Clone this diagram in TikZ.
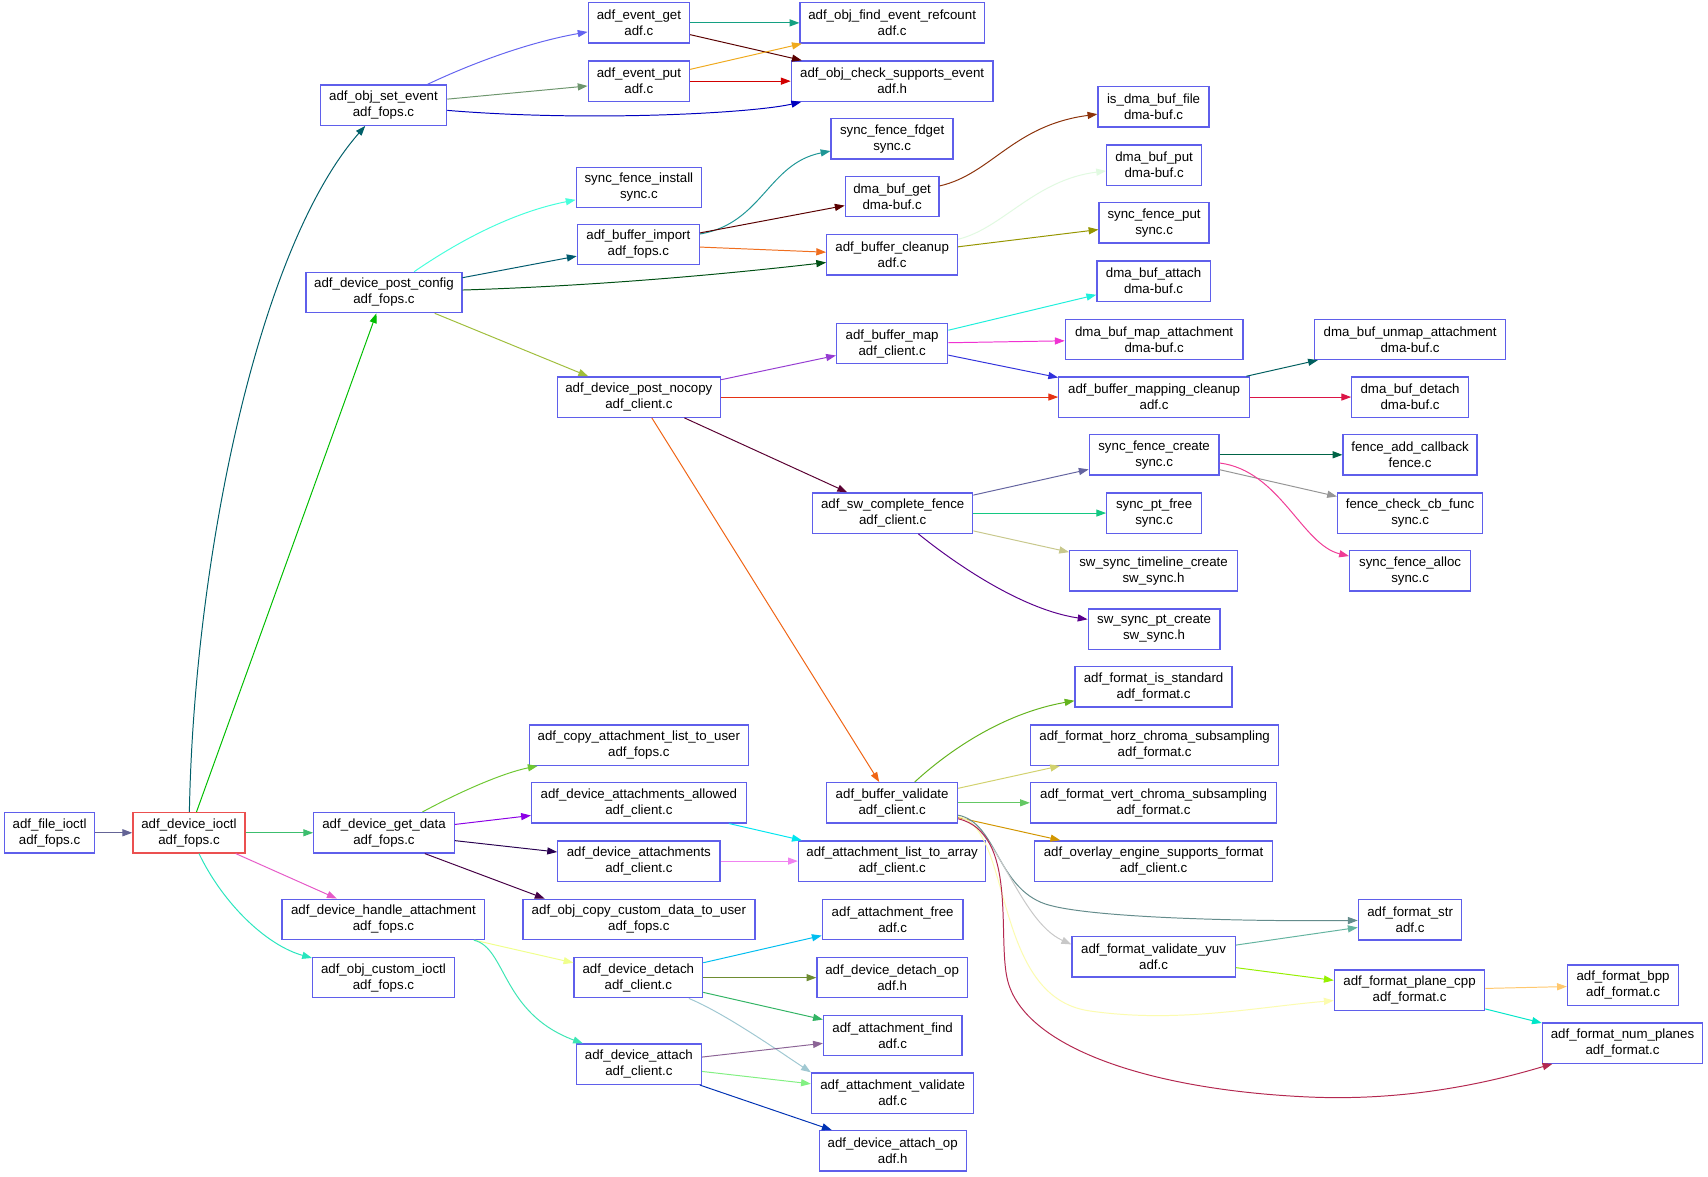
\documentclass[tikz,border=0pt]{standalone}
\usepackage{fontspec}
\setmainfont{Liberation Sans}
\usetikzlibrary{arrows.meta}
\definecolor{nodeblue}{RGB}{95,95,235}
\definecolor{nodered}{RGB}{235,80,80}
\definecolor{c1}{RGB}{100,100,150}
\definecolor{c2}{RGB}{0,95,105}
\definecolor{c3}{RGB}{0,190,0}
\definecolor{c4}{RGB}{60,190,110}
\definecolor{c5}{RGB}{230,90,200}
\definecolor{c6}{RGB}{40,230,190}
\definecolor{c7}{RGB}{100,100,240}
\definecolor{c8}{RGB}{110,150,110}
\definecolor{c9}{RGB}{0,0,190}
\definecolor{c10}{RGB}{20,160,130}
\definecolor{c11}{RGB}{90,0,0}
\definecolor{c12}{RGB}{240,170,30}
\definecolor{c13}{RGB}{210,0,0}
\definecolor{c14}{RGB}{70,255,220}
\definecolor{c15}{RGB}{0,90,110}
\definecolor{c16}{RGB}{0,80,20}
\definecolor{c17}{RGB}{160,190,60}
\definecolor{c18}{RGB}{30,150,150}
\definecolor{c19}{RGB}{90,0,0}
\definecolor{c20}{RGB}{240,110,30}
\definecolor{c21}{RGB}{140,50,10}
\definecolor{c22}{RGB}{225,250,225}
\definecolor{c23}{RGB}{150,150,0}
\definecolor{c24}{RGB}{150,60,210}
\definecolor{c25}{RGB}{230,50,20}
\definecolor{c26}{RGB}{90,0,50}
\definecolor{c27}{RGB}{240,100,20}
\definecolor{c28}{RGB}{30,240,220}
\definecolor{c29}{RGB}{240,50,210}
\definecolor{c30}{RGB}{50,50,220}
\definecolor{c31}{RGB}{0,95,95}
\definecolor{c32}{RGB}{220,20,70}
\definecolor{c33}{RGB}{100,100,160}
\definecolor{c34}{RGB}{20,200,130}
\definecolor{c35}{RGB}{200,200,140}
\definecolor{c36}{RGB}{90,0,140}
\definecolor{c37}{RGB}{0,100,70}
\definecolor{c38}{RGB}{150,150,150}
\definecolor{c39}{RGB}{240,60,150}
\definecolor{c40}{RGB}{100,180,30}
\definecolor{c41}{RGB}{210,210,110}
\definecolor{c42}{RGB}{100,200,100}
\definecolor{c43}{RGB}{210,150,0}
\definecolor{c44}{RGB}{100,140,140}
\definecolor{c45}{RGB}{200,200,200}
\definecolor{c46}{RGB}{252,252,175}
\definecolor{c47}{RGB}{180,40,80}
\definecolor{c48}{RGB}{100,180,160}
\definecolor{c49}{RGB}{150,240,0}
\definecolor{c50}{RGB}{255,200,110}
\definecolor{c51}{RGB}{0,230,200}
\definecolor{c52}{RGB}{110,200,50}
\definecolor{c53}{RGB}{140,0,230}
\definecolor{c54}{RGB}{40,0,80}
\definecolor{c55}{RGB}{70,0,70}
\definecolor{c56}{RGB}{240,255,140}
\definecolor{c57}{RGB}{60,230,180}
\definecolor{c58}{RGB}{0,230,240}
\definecolor{c59}{RGB}{240,130,240}
\definecolor{c60}{RGB}{0,190,240}
\definecolor{c61}{RGB}{110,140,50}
\definecolor{c62}{RGB}{50,180,100}
\definecolor{c63}{RGB}{160,200,210}
\definecolor{c64}{RGB}{140,100,150}
\definecolor{c65}{RGB}{130,240,130}
\definecolor{c66}{RGB}{0,50,180}
\tikzset{
  fn/.style={draw=nodeblue, line width=1.2pt, fill=white, align=center,
    inner xsep=2pt, inner ysep=0pt, minimum height=37pt,
    font=\fontsize{12.2}{14.7}\selectfont,
    execute at begin node={\rule{0pt}{10.5pt}}},
  fnred/.style={fn, draw=nodered},
  ed/.style={draw=#1, line width=0.9pt, -{Triangle[length=9pt,width=6.5pt]}}
}
\begin{document}
\begin{tikzpicture}[x=1pt,y=-1pt]
\useasboundingbox[fill=white] (0,0) rectangle (1568,1080);
% column 1-2
\node[fn, minimum width=83pt] (fio) at (45.5,764.5) {adf\_file\_ioctl\\adf\_fops.c};
\node[fnred, minimum width=103pt] (dio) at (173.5,764.5) {adf\_device\_ioctl\\adf\_fops.c};
% column 3
\node[fn, minimum width=116pt] (ose) at (352,96.5) {adf\_obj\_set\_event\\adf\_fops.c};
\node[fn, minimum width=143pt] (dpc) at (352.5,268.5) {adf\_device\_post\_config\\adf\_fops.c};
\node[fn, minimum width=129pt] (dgd) at (352.5,764.5) {adf\_device\_get\_data\\adf\_fops.c};
\node[fn, minimum width=186pt] (dha) at (352,844) {adf\_device\_handle\_attachment\\adf\_fops.c};
\node[fn, minimum width=130pt] (oci) at (352,897.5) {adf\_obj\_custom\_ioctl\\adf\_fops.c};
% column 4
\node[fn, minimum width=93pt] (eg) at (586.5,21) {adf\_event\_get\\adf.c};
\node[fn, minimum width=93pt] (ep) at (586.5,74.5) {adf\_event\_put\\adf.c};
\node[fn, minimum width=115pt] (sfi) at (586.5,172) {sync\_fence\_install\\sync.c};
\node[fn, minimum width=112pt] (bim) at (586,224.5) {adf\_buffer\_import\\adf\_fops.c};
\node[fn, minimum width=150pt] (dpn) at (586.5,364.5) {adf\_device\_post\_nocopy\\adf\_client.c};
\node[fn, minimum width=201pt] (cal) at (586.5,684) {adf\_copy\_attachment\_list\_to\_user\\adf\_fops.c};
\node[fn, minimum width=197pt] (daa) at (586.5,737) {adf\_device\_attachments\_allowed\\adf\_client.c};
\node[fn, minimum width=149pt] (dat) at (586.5,790.5) {adf\_device\_attachments\\adf\_client.c};
\node[fn, minimum width=213pt] (occ) at (586.5,844) {adf\_obj\_copy\_custom\_data\_to\_user\\adf\_fops.c};
\node[fn, minimum width=118pt] (ddt) at (586,897.5) {adf\_device\_detach\\adf\_client.c};
\node[fn, minimum width=115pt] (dah) at (586.5,977) {adf\_device\_attach\\adf\_client.c};
% column 5
\node[fn, minimum width=169pt] (fer) at (819,21) {adf\_obj\_find\_event\_refcount\\adf.c};
\node[fn, minimum width=185pt] (cse) at (819,74.5) {adf\_obj\_check\_supports\_event\\adf.h};
\node[fn, minimum width=112pt] (sff) at (819,127.5) {sync\_fence\_fdget\\sync.c};
\node[fn, minimum width=86pt] (dbg) at (819,180.5) {dma\_buf\_get\\dma-buf.c};
\node[fn, minimum width=120pt] (bcl) at (819,234) {adf\_buffer\_cleanup\\adf.c};
\node[fn, minimum width=102pt] (bmp) at (819,315.5) {adf\_buffer\_map\\adf\_client.c};
\node[fn, minimum width=147pt] (swc) at (819.5,471) {adf\_sw\_complete\_fence\\adf\_client.c};
\node[fn, minimum width=120pt] (bva) at (819,737) {adf\_buffer\_validate\\adf\_client.c};
\node[fn, minimum width=172pt] (lta) at (819,790.5) {adf\_attachment\_list\_to\_array\\adf\_client.c};
\node[fn, minimum width=129pt] (afr) at (819.5,844) {adf\_attachment\_free\\adf.c};
\node[fn, minimum width=138pt] (ddo) at (819,897.5) {adf\_device\_detach\_op\\adf.h};
\node[fn, minimum width=127pt] (afi) at (819.5,950.5) {adf\_attachment\_find\\adf.c};
\node[fn, minimum width=149pt] (ava) at (819.5,1003.5) {adf\_attachment\_validate\\adf.c};
\node[fn, minimum width=135pt] (dao) at (819.5,1056.5) {adf\_device\_attach\_op\\adf.h};
% column 6
\node[fn, minimum width=102pt] (idf) at (1059,98) {is\_dma\_buf\_file\\dma-buf.c};
\node[fn, minimum width=87pt] (dbp) at (1059.5,151.5) {dma\_buf\_put\\dma-buf.c};
\node[fn, minimum width=101pt] (sfp) at (1059.5,204.5) {sync\_fence\_put\\sync.c};
\node[fn, minimum width=104pt] (dba) at (1059,258) {dma\_buf\_attach\\dma-buf.c};
\node[fn, minimum width=163pt] (dbm) at (1059.5,311.5) {dma\_buf\_map\_attachment\\dma-buf.c};
\node[fn, minimum width=175pt] (bmc) at (1059.5,364.5) {adf\_buffer\_mapping\_cleanup\\adf.c};
\node[fn, minimum width=119pt] (sfc) at (1059.5,417.5) {sync\_fence\_create\\sync.c};
\node[fn, minimum width=87pt] (spf) at (1059.5,471) {sync\_pt\_free\\sync.c};
\node[fn, minimum width=154pt] (stc) at (1059,524) {sw\_sync\_timeline\_create\\sw\_sync.h};
\node[fn, minimum width=121pt] (spc) at (1059.5,577.5) {sw\_sync\_pt\_create\\sw\_sync.h};
\node[fn, minimum width=144pt] (fis) at (1059,630.5) {adf\_format\_is\_standard\\adf\_format.c};
\node[fn, minimum width=228pt] (fhc) at (1060,684) {adf\_format\_horz\_chroma\_subsampling\\adf\_format.c};
\node[fn, minimum width=226pt] (fvc) at (1059,737) {adf\_format\_vert\_chroma\_subsampling\\adf\_format.c};
\node[fn, minimum width=218pt] (oes) at (1059,790.5) {adf\_overlay\_engine\_supports\_format\\adf\_client.c};
\node[fn, minimum width=150pt] (fvy) at (1059,878.5) {adf\_format\_validate\_yuv\\adf.c};
% column 7
\node[fn, minimum width=175pt] (dbu) at (1294.5,311.5) {dma\_buf\_unmap\_attachment\\dma-buf.c};
\node[fn, minimum width=107pt] (dbd) at (1294.5,364.5) {dma\_buf\_detach\\dma-buf.c};
\node[fn, minimum width=123pt] (fac) at (1294.5,417.5) {fence\_add\_callback\\fence.c};
\node[fn, minimum width=133pt] (fcc) at (1294.5,471) {fence\_check\_cb\_func\\sync.c};
\node[fn, minimum width=111pt] (sfa) at (1294.5,524) {sync\_fence\_alloc\\sync.c};
\node[fn, minimum width=95pt] (fst) at (1294.5,844.5) {adf\_format\_str\\adf.c};
\node[fn, minimum width=138pt] (fpc) at (1294,909) {adf\_format\_plane\_cpp\\adf\_format.c};
% column 8
\node[fn, minimum width=102pt] (fbp) at (1490,904.5) {adf\_format\_bpp\\adf\_format.c};
\node[fn, minimum width=147pt] (fnp) at (1489.5,957.5) {adf\_format\_num\_planes\\adf\_format.c};

% edges
\draw[ed=c1] (fio) -- (dio);
\draw[ed=c2] (dio) .. controls (178,520) and (235,230) .. (ose);
\draw[ed=c3] (dio) -- (dpc);
\draw[ed=c4] (dio) -- (dgd);
\draw[ed=c5] (dio) -- (dha);
\draw[ed=c6] (dio) .. controls (205,830) and (245,868) .. (oci);
\draw[ed=c7] (ose) .. controls (440,55) and (490,38) .. (eg);
\draw[ed=c8] (ose) -- (ep);
\draw[ed=c9] (ose) .. controls (540,112) and (690,104) .. (cse);
\draw[ed=c10] (eg) -- (fer);
\draw[ed=c11] (eg) -- (cse);
\draw[ed=c12] (ep) -- (fer);
\draw[ed=c13] (ep) -- (cse);
\draw[ed=c14] (dpc) .. controls (420,222) and (470,195) .. (sfi);
\draw[ed=c15] (dpc) -- (bim);
\draw[ed=c16] (dpc) .. controls (560,262) and (680,250) .. (bcl);
\draw[ed=c17] (dpc) -- (dpn);
\draw[ed=c18] (bim) .. controls (700,205) and (705,150) .. (sff);
\draw[ed=c19] (bim) -- (dbg);
\draw[ed=c20] (bim) -- (bcl);
\draw[ed=c21] (dbg) .. controls (910,160) and (930,115) .. (idf);
\draw[ed=c22] (bcl) .. controls (920,210) and (950,165) .. (dbp);
\draw[ed=c23] (bcl) -- (sfp);
\draw[ed=c24] (dpn) -- (bmp);
\draw[ed=c25] (dpn) -- (bmc);
\draw[ed=c26] (dpn) -- (swc);
\draw[ed=c27] (dpn) -- (bva);
\draw[ed=c28] (bmp) -- (dba);
\draw[ed=c29] (bmp) -- (dbm);
\draw[ed=c30] (bmp) -- (bmc);
\draw[ed=c31] (bmc) -- (dbu);
\draw[ed=c32] (bmc) -- (dbd);
\draw[ed=c33] (swc) -- (sfc);
\draw[ed=c34] (swc) -- (spf);
\draw[ed=c35] (swc) -- (stc);
\draw[ed=c36] (swc) .. controls (880,520) and (940,560) .. (spc);
\draw[ed=c37] (sfc) -- (fac);
\draw[ed=c38] (sfc) -- (fcc);
\draw[ed=c39] (sfc) .. controls (1175,432) and (1195,500) .. (sfa);
\draw[ed=c40] (bva) .. controls (870,690) and (920,655) .. (fis);
\draw[ed=c41] (bva) -- (fhc);
\draw[ed=c42] (bva) -- (fvc);
\draw[ed=c43] (bva) -- (oes);
\draw[ed=c44] (bva) .. controls (915,755) and (915,815) .. (960,830) .. controls (1000,843) and (1150,846) .. (fst);
\draw[ed=c45] (bva) .. controls (915,757) and (935,845) .. ([yshift=11.5pt]fvy.west);
\draw[ed=c46] (bva) .. controls (930,760) and (910,915) .. (1000,928) .. controls (1080,939.6) and (1150,925) .. ([yshift=-9.5pt]fpc.west);
\draw[ed=c47] (bva) .. controls (935,765) and (915,860) .. (925,900) .. controls (940,960) and (1050,1000) .. (1200,1007) .. controls (1300,1011.7) and (1380,990) .. (fnp);
\draw[ed=c48] (fvy) -- (fst);
\draw[ed=c49] (fvy) -- (fpc);
\draw[ed=c50] (fpc) -- (fbp);
\draw[ed=c51] (fpc) -- (fnp);
\draw[ed=c52] (dgd) .. controls (420,728) and (460,710) .. (cal);
\draw[ed=c53] (dgd) -- (daa);
\draw[ed=c54] (dgd) -- (dat);
\draw[ed=c55] ([xshift=37.5pt]dgd.south) -- ([xshift=-86.5pt]occ.north);
\draw[ed=c56] (dha) -- (ddt);
\draw[ed=c57] (dha) .. controls (465,870) and (460,930) .. (dah);
\draw[ed=c58] (daa) -- (lta);
\draw[ed=c59] (dat) -- (lta);
\draw[ed=c60] (ddt) -- (afr);
\draw[ed=c61] (ddt) -- (ddo);
\draw[ed=c62] (ddt) -- (afi);
\draw[ed=c63] (ddt) .. controls (665,930) and (715,965) .. (ava.north west);
\draw[ed=c64] (dah) -- (afi);
\draw[ed=c65] (dah) -- (ava);
\draw[ed=c66] (dah) -- (dao);
\end{tikzpicture}
\end{document}
